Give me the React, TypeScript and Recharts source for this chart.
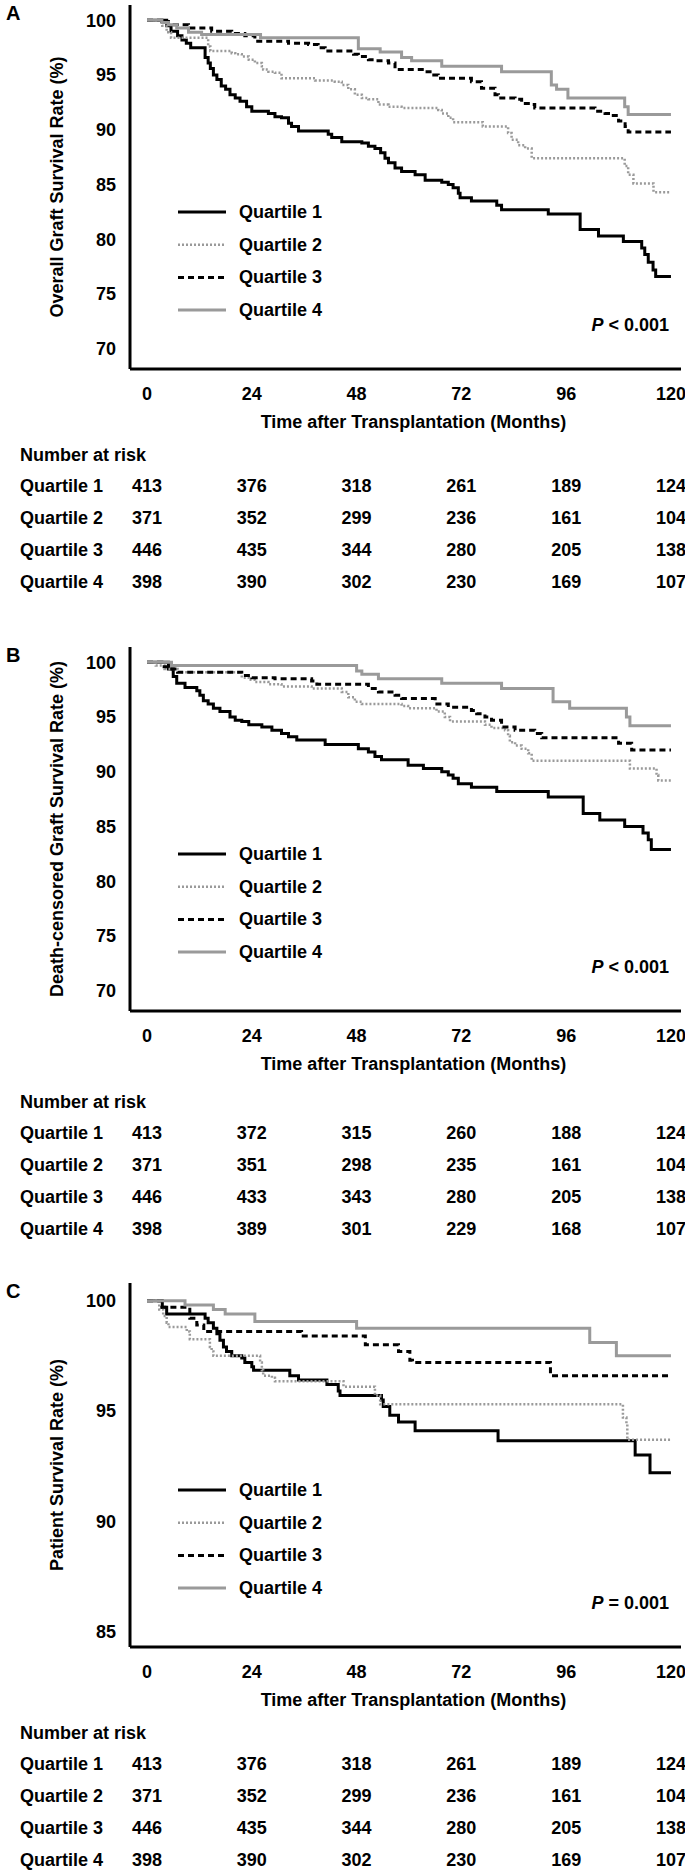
import { LineChart, Line, XAxis, YAxis, Legend } from "recharts";

type Pt = [number, number];

const FONT = "'Liberation Sans', Arial, Helvetica, sans-serif";
const MONTH_TICKS = [0, 24, 48, 72, 96, 120];
const X_DOMAIN: [number, number] = [-3.9, 122.3];
const GRAFT_TICKS = [70, 75, 80, 85, 90, 95, 100];
const PATIENT_TICKS = [85, 90, 95, 100];
const GROUPS = ["Quartile 1", "Quartile 2", "Quartile 3", "Quartile 4"];

// (A) overall graft survival, [month, %]
const overallQ1: Pt[] = [
  [0, 100], [4.5, 99.5], [5.5, 99.0], [7.0, 98.6], [8.0, 98.2], [9.0, 97.9], [10.0, 97.5],
  [13.3, 96.6], [14.0, 96.1], [14.5, 95.6], [15.2, 95.0], [16.0, 94.6], [17.0, 94.0],
  [18.0, 93.7], [19.0, 93.2], [20.2, 92.9], [21.3, 92.6], [22.8, 92.1], [24.0, 91.7],
  [27.8, 91.5], [29.3, 91.2], [30.8, 91.1], [32.4, 90.6], [33.1, 90.3], [34.7, 89.9],
  [41.5, 89.6], [42.3, 89.3], [44.6, 88.9], [49.2, 88.8], [50.7, 88.5], [52.2, 88.3],
  [53.5, 87.9], [54.5, 87.4], [55.3, 87.0], [56.8, 86.5], [58.3, 86.2], [61.4, 85.9],
  [63.7, 85.4], [67.5, 85.2], [69.0, 85.0], [70.1, 84.7], [71.3, 84.2], [71.7, 83.8],
  [74.3, 83.5], [80.1, 83.1], [81.2, 82.7], [91.9, 82.3], [99.2, 80.9], [103.4, 80.3],
  [109.1, 79.8], [113.3, 79.2], [114.0, 78.6], [114.8, 77.9], [115.9, 77.2], [116.5, 76.6],
  [120, 76.6],
];
const overallQ2: Pt[] = [
  [0, 100], [3.5, 99.5], [4.5, 98.9], [5.5, 98.4], [14.0, 97.6], [14.5, 97.2], [19.4, 97.0],
  [20.2, 96.9], [21.7, 96.7], [23.3, 96.4], [24.7, 96.1], [26.3, 95.8], [26.6, 95.5],
  [27.8, 95.3], [29.3, 95.2], [30.8, 94.7], [38.5, 94.5], [43.0, 94.4], [44.6, 94.1],
  [46.1, 93.7], [47.6, 93.2], [49.2, 92.9], [50.7, 92.8], [53.0, 92.3], [55.3, 92.1],
  [58.3, 92.0], [66.7, 91.8], [67.5, 91.5], [69.0, 91.1], [70.1, 90.7], [76.9, 90.3],
  [82.7, 89.7], [83.5, 89.1], [85.0, 88.6], [86.6, 88.3], [88.1, 87.4], [109.4, 86.7],
  [110.2, 85.9], [111.4, 85.1], [116.0, 84.3], [120, 84.3],
];
const overallQ3: Pt[] = [
  [0, 100], [3.4, 99.9], [4.9, 99.6], [9.5, 99.3], [14.8, 99.0], [19.4, 98.8], [22.4, 98.6],
  [24.7, 98.1], [32.4, 97.9], [37.0, 97.8], [39.2, 97.5], [40.8, 97.2], [47.3, 96.9],
  [48.4, 96.7], [50.7, 96.4], [52.2, 96.3], [55.3, 96.1], [56.8, 95.5], [63.7, 95.3],
  [65.2, 95.0], [66.7, 94.7], [74.3, 94.4], [76.6, 93.8], [79.7, 93.2], [80.5, 92.9],
  [84.3, 92.8], [85.8, 92.4], [88.1, 92.3], [88.8, 92.0], [102.6, 91.7], [104.9, 91.5],
  [106.4, 91.3], [108.0, 90.8], [109.5, 90.3], [110.2, 89.8], [120, 89.8],
];
const overallQ4: Pt[] = [
  [0, 100], [3.4, 99.8], [4.9, 99.6], [6.8, 99.3], [9.5, 98.9], [12.5, 98.7], [26.0, 98.4],
  [48.4, 97.4], [53.4, 97.1], [58.3, 96.6], [60.6, 96.3], [67.5, 95.8], [81.2, 95.3],
  [92.6, 94.1], [93.8, 93.7], [96.4, 92.9], [109.4, 92.1], [110.2, 91.4], [120, 91.4],
];

// (B) death-censored graft survival
const censoredQ1: Pt[] = [
  [0, 100], [4.9, 99.4], [6.0, 98.7], [6.8, 98.1], [8.7, 97.7], [11.4, 97.4], [12.1, 97.0],
  [12.9, 96.5], [14.0, 96.2], [15.2, 95.8], [16.7, 95.5], [19.0, 95.0], [20.2, 94.7],
  [21.7, 94.6], [23.3, 94.3], [26.3, 94.1], [28.6, 93.8], [30.8, 93.5], [32.4, 93.2],
  [34.3, 92.9], [40.8, 92.5], [48.4, 92.1], [50.7, 91.8], [52.2, 91.4], [53.7, 91.1],
  [59.8, 90.6], [63.3, 90.3], [67.5, 90.0], [69.0, 89.7], [70.1, 89.4], [71.3, 88.9],
  [74.3, 88.6], [80.1, 88.2], [91.9, 87.7], [99.9, 86.2], [103.7, 85.6], [109.4, 85.0],
  [113.6, 84.4], [114.8, 83.8], [115.5, 82.9], [120, 82.9],
];
const censoredQ2: Pt[] = [
  [0, 100], [2.0, 99.7], [4.0, 99.4], [7.0, 99.1], [21.7, 98.6], [23.3, 98.4], [24.7, 98.2],
  [27.8, 98.0], [30.8, 97.8], [37.7, 97.6], [44.6, 97.3], [46.1, 96.8], [47.6, 96.4],
  [49.2, 96.2], [58.3, 96.0], [59.8, 95.8], [66.3, 95.5], [68.2, 95.0], [69.4, 94.6],
  [77.4, 94.3], [78.9, 94.0], [82.0, 93.8], [82.7, 93.3], [83.1, 92.7], [84.3, 92.4],
  [85.8, 92.1], [87.3, 91.7], [88.1, 91.0], [110.6, 90.3], [116.7, 89.7], [117.1, 89.2],
  [120, 89.2],
];
const censoredQ3: Pt[] = [
  [0, 100], [3.4, 99.6], [4.9, 99.4], [7.0, 99.1], [21.7, 98.8], [24.0, 98.6], [29.3, 98.5],
  [37.7, 98.3], [38.9, 98.0], [50.7, 97.6], [53.0, 97.3], [56.8, 97.0], [58.3, 96.7],
  [66.0, 96.2], [69.0, 95.9], [74.3, 95.6], [75.5, 95.3], [77.4, 95.0], [78.9, 94.7],
  [81.2, 94.1], [84.3, 93.8], [88.8, 93.5], [90.4, 93.1], [108.0, 92.6], [111.0, 92.0],
  [120, 92.0],
];
const censoredQ4: Pt[] = [
  [0, 100], [5.6, 99.7], [48.0, 99.2], [49.2, 98.9], [53.0, 98.5], [67.5, 98.1],
  [81.2, 97.6], [93.0, 96.4], [96.8, 95.8], [109.8, 95.0], [110.6, 94.2], [120, 94.2],
];

// (C) patient survival
const patientQ1: Pt[] = [
  [0, 100], [3.5, 99.7], [4.5, 99.4], [13.3, 99.2], [14.0, 99.0], [15.2, 98.75],
  [16.0, 98.5], [16.7, 98.2], [17.5, 97.9], [18.2, 97.7], [19.4, 97.5], [21.7, 97.4],
  [22.4, 97.2], [24.0, 97.0], [24.4, 96.85], [32.7, 96.6], [34.7, 96.4], [41.2, 96.2],
  [43.8, 95.9], [44.2, 95.7], [53.7, 95.5], [54.1, 95.2], [55.6, 94.8], [57.6, 94.5],
  [61.4, 94.1], [80.4, 93.65], [111.8, 93.0], [115.2, 92.2], [120, 92.2],
];
const patientQ2: Pt[] = [
  [0, 100], [2.8, 99.6], [3.7, 99.3], [4.5, 99.0], [4.9, 98.8], [9.1, 98.6], [9.8, 98.25],
  [14.4, 97.9], [14.8, 97.7], [15.2, 97.5], [25.9, 97.2], [26.3, 96.85], [26.6, 96.6],
  [28.6, 96.5], [29.3, 96.35], [45.0, 96.1], [52.2, 95.7], [53.4, 95.3], [109.0, 94.7],
  [109.8, 94.4], [110.0, 93.7], [120, 93.7],
];
const patientQ3: Pt[] = [
  [0, 100], [3.4, 99.7], [9.8, 99.2], [11.4, 98.9], [13.0, 98.6], [35.4, 98.4], [50.0, 98.0],
  [57.6, 97.7], [60.2, 97.3], [60.8, 97.2], [92.4, 96.6], [120, 96.6],
];
const patientQ4: Pt[] = [
  [0, 100], [8.7, 99.8], [15.2, 99.6], [17.9, 99.4], [24.7, 99.05], [48.0, 98.75],
  [101.4, 98.1], [107.5, 97.5], [120, 97.5],
];

// number at risk at 0, 24, 48, 72, 96, 120 months
const riskGraft = [
  [413, 376, 318, 261, 189, 124],
  [371, 352, 299, 236, 161, 104],
  [446, 435, 344, 280, 205, 138],
  [398, 390, 302, 230, 169, 107],
];
const riskCensored = [
  [413, 372, 315, 260, 188, 124],
  [371, 351, 298, 235, 161, 104],
  [446, 433, 343, 280, 205, 138],
  [398, 389, 301, 229, 168, 107],
];
const riskPatient = [
  [413, 376, 318, 261, 189, 124],
  [371, 352, 299, 236, 161, 104],
  [446, 435, 344, 280, 205, 138],
  [398, 390, 302, 230, 169, 107],
];

const LINE_STYLE: Record<string, { stroke: string; width: number; dash?: string }> = {
  "Quartile 1": { stroke: "#000000", width: 3 },
  "Quartile 2": { stroke: "#9a9a9a", width: 2.5, dash: "2 2" },
  "Quartile 3": { stroke: "#000000", width: 3, dash: "6 4" },
  "Quartile 4": { stroke: "#9a9a9a", width: 3 },
};

// chart geometry
const W = 685;
const PLOT_LEFT = 130;
const PLOT_RIGHT = 681;
const PLOT_TOP = 5;
const PLOT_H = 364;
const X_AXIS_H = 76;

const toRows = (pts: Pt[]) => pts.map(([t, v]) => ({ t, v }));

const colX = (t: number) =>
  PLOT_LEFT + ((t - X_DOMAIN[0]) / (X_DOMAIN[1] - X_DOMAIN[0])) * (PLOT_RIGHT - PLOT_LEFT);

const textStyle = { fontFamily: FONT, fontWeight: 700, fontSize: 18, color: "#000" };

function YTitle(props: any) {
  const vb = props.viewBox || {};
  const cx = vb.x + 17;
  const cy = vb.y + vb.height / 2;
  return (
    <text
      x={cx}
      y={cy}
      transform={`rotate(-90, ${cx}, ${cy})`}
      textAnchor="middle"
      dominantBaseline="central"
      style={{ fontFamily: FONT, fontWeight: 700, fontSize: 18, fill: "#000" }}
    >
      {props.text}
    </text>
  );
}

function XTitle(props: any) {
  const vb = props.viewBox || {};
  return (
    <text
      x={vb.x + vb.width / 2 + 8}
      y={vb.y + 53}
      textAnchor="middle"
      dominantBaseline="central"
      style={{ fontFamily: FONT, fontWeight: 700, fontSize: 18, fill: "#000" }}
    >
      Time after Transplantation (Months)
    </text>
  );
}

function KmLegend({ payload }: { payload?: any[] }) {
  const items = payload && payload.length ? payload.map((p) => String(p.value)) : GROUPS;
  return (
    <svg width={220} height={136}>
      {items.map((name, i) => {
        const s = LINE_STYLE[name];
        const y = 16 + i * 32.7;
        return (
          <g key={name}>
            <line x1={0} x2={48} y1={y} y2={y} stroke={s.stroke} strokeWidth={s.width} strokeDasharray={s.dash} />
            <text
              x={61}
              y={y}
              dominantBaseline="central"
              style={{ fontFamily: FONT, fontWeight: 700, fontSize: 18, fill: "#000" }}
            >
              {name}
            </text>
          </g>
        );
      })}
    </svg>
  );
}

function KmPanel({
  letter,
  yTitle,
  yDomain,
  yTicks,
  series,
  risk,
  pText,
  top,
  tableShift,
}: {
  letter: string;
  yTitle: string;
  yDomain: [number, number];
  yTicks: number[];
  series: Pt[][];
  risk: number[][];
  pText: string;
  top: number;
  tableShift: number;
}) {
  const rowY = [450, 481, 513, 545, 577].map((y) => PLOT_TOP + y + tableShift);
  return (
    <div style={{ position: "absolute", left: 0, top, width: W, height: 640 }}>
      <LineChart
        width={W}
        height={PLOT_TOP + PLOT_H + X_AXIS_H}
        margin={{ top: PLOT_TOP, right: W - PLOT_RIGHT, left: 40, bottom: 0 }}
      >
        <XAxis
          type="number"
          dataKey="t"
          domain={X_DOMAIN}
          ticks={MONTH_TICKS}
          allowDataOverflow
          height={X_AXIS_H}
          tickLine={false}
          tickSize={0}
          tickMargin={18}
          axisLine={{ stroke: "#000", strokeWidth: 3 }}
          tick={{ fill: "#000", fontSize: 18, fontWeight: 700, fontFamily: FONT }}
          label={<XTitle />}
        />
        <YAxis
          type="number"
          domain={yDomain}
          ticks={yTicks}
          allowDataOverflow
          width={PLOT_LEFT - 40}
          tickLine={false}
          tickSize={0}
          tickMargin={14}
          axisLine={{ stroke: "#000", strokeWidth: 3 }}
          tick={{ fill: "#000", fontSize: 18, fontWeight: 700, fontFamily: FONT }}
          label={<YTitle text={yTitle} />}
        />
        <Legend
          layout="vertical"
          align="center"
          verticalAlign="middle"
          wrapperStyle={{ left: 178, top: PLOT_TOP + 191, width: 220, height: 136 }}
          content={(p: any) => <KmLegend payload={p.payload} />}
        />
        {series.map((pts, i) => {
          const s = LINE_STYLE[GROUPS[i]];
          return (
            <Line
              key={GROUPS[i]}
              name={GROUPS[i]}
              data={toRows(pts)}
              dataKey="v"
              type="stepAfter"
              stroke={s.stroke}
              strokeWidth={s.width}
              strokeDasharray={s.dash}
              dot={false}
              activeDot={false}
              isAnimationActive={false}
            />
          );
        })}
      </LineChart>

      <div style={{ ...textStyle, fontSize: 20, position: "absolute", left: 6, top: 3, lineHeight: "20px" }}>
        {letter}
      </div>

      <div
        style={{
          ...textStyle,
          position: "absolute",
          right: W - 669,
          top: PLOT_TOP + 320 - 11,
          lineHeight: "22px",
          whiteSpace: "nowrap",
        }}
      >
        <span style={{ fontStyle: "italic" }}>P</span> {pText}
      </div>

      <div style={{ ...textStyle, position: "absolute", left: 20, top: rowY[0] - 11, lineHeight: "22px" }}>
        Number at risk
      </div>
      {risk.map((row, r) => (
        <div key={r}>
          <div style={{ ...textStyle, position: "absolute", left: 20, top: rowY[r + 1] - 11, lineHeight: "22px", whiteSpace: "nowrap" }}>
            {GROUPS[r]}
          </div>
          {row.map((n, c) => (
            <div
              key={c}
              style={{
                ...textStyle,
                position: "absolute",
                left: colX(MONTH_TICKS[c]),
                top: rowY[r + 1] - 11,
                lineHeight: "22px",
                transform: "translateX(-50%)",
              }}
            >
              {n}
            </div>
          ))}
        </div>
      ))}
    </div>
  );
}

export default function App() {
  return (
    <div style={{ position: "relative", width: W, height: 1875, background: "#fff", overflow: "hidden" }}>
      <style>{"body{margin:0;background:#fff;}"}</style>
      <KmPanel
        letter="A"
        yTitle="Overall Graft Survival Rate (%)"
        yDomain={[68.15, 101.4]}
        yTicks={GRAFT_TICKS}
        series={[overallQ1, overallQ2, overallQ3, overallQ4]}
        risk={riskGraft}
        pText="< 0.001"
        top={0}
        tableShift={0}
      />
      <KmPanel
        letter="B"
        yTitle="Death-censored Graft Survival Rate (%)"
        yDomain={[68.15, 101.4]}
        yTicks={GRAFT_TICKS}
        series={[censoredQ1, censoredQ2, censoredQ3, censoredQ4]}
        risk={riskCensored}
        pText="< 0.001"
        top={642}
        tableShift={5}
      />
      <KmPanel
        letter="C"
        yTitle="Patient Survival Rate (%)"
        yDomain={[84.3, 100.8]}
        yTicks={PATIENT_TICKS}
        series={[patientQ1, patientQ2, patientQ3, patientQ4]}
        risk={riskPatient}
        pText="= 0.001"
        top={1278}
        tableShift={0}
      />
    </div>
  );
}
